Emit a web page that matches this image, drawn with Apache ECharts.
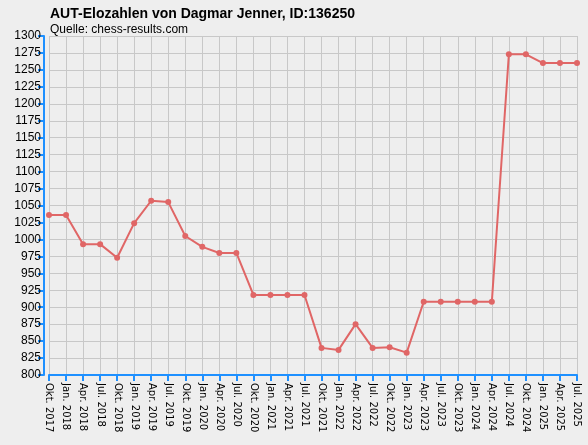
<!DOCTYPE html>
<html><head><meta charset="utf-8">
<script src="https://cdn.jsdelivr.net/npm/echarts@6/dist/echarts.min.js"></script>
<style>html,body{margin:0;background:#eeeeee}#c{width:588px;height:445px}</style>
</head><body><div id="c"></div>
<script>
var categories = ['Okt. 2017','Jan. 2018','Apr. 2018','Jul. 2018','Okt. 2018','Jan. 2019','Apr. 2019','Jul. 2019','Okt. 2019','Jan. 2020','Apr. 2020','Jul. 2020','Okt. 2020','Jan. 2021','Apr. 2021','Jul. 2021','Okt. 2021','Jan. 2022','Apr. 2022','Jul. 2022','Okt. 2022','Jan. 2023','Apr. 2023','Jul. 2023','Okt. 2023','Jan. 2024','Apr. 2024','Jul. 2024','Okt. 2024','Jan. 2025','Apr. 2025','Jul. 2025'];
var elo = [1036,1036,993,993,973,1024,1057,1055,1005,989,980,980,918,918,918,918,840,837,875,840,841,833,908,908,908,908,908,1273,1273,1260,1260,1260];

var blue = '#1e90ff';
var chart = echarts.init(document.getElementById('c'));
chart.setOption({
  backgroundColor: '#eeeeee',
  animation: false,
  title: {
    text: 'AUT-Elozahlen von Dagmar Jenner, ID:136250',
    subtext: 'Quelle: chess-results.com',
    left: 45, top: 2, itemGap: 3,
    textStyle: {fontFamily: 'Liberation Sans', fontSize: 14, fontWeight: 'bold', color: '#000'},
    subtextStyle: {fontFamily: 'Liberation Sans', fontSize: 12, color: '#000'}
  },
  grid: {left: 49, right: 11, top: 36, bottom: 70},
  xAxis: {
    type: 'category', data: categories, boundaryGap: false,
    axisLine: {lineStyle: {color: blue, width: 2}},
    axisTick: {alignWithLabel: true, length: 6, lineStyle: {color: blue, width: 2}},
    axisLabel: {rotate: -90, interval: 0, fontFamily: 'DejaVu Sans', fontSize: 10, color: '#000', margin: 8},
    splitLine: {show: true, lineStyle: {color: '#c8c8c8'}}
  },
  yAxis: {
    type: 'value', min: 800, max: 1300, interval: 25, offset: 5,
    axisLine: {show: true, lineStyle: {color: blue, width: 2}},
    axisTick: {show: true, length: 6, lineStyle: {color: blue, width: 2}},
    axisLabel: {fontFamily: 'Liberation Sans', fontSize: 12, color: '#000', margin: 3,
      formatter: function (v) { return String(v); }},
    splitLine: {lineStyle: {color: '#c8c8c8'}}
  },
  series: [{
    type: 'line', data: elo,
    symbol: 'circle', symbolSize: 6,
    lineStyle: {color: '#e06666', width: 2},
    itemStyle: {color: '#e06666'}
  }]
});
</script></body></html>
